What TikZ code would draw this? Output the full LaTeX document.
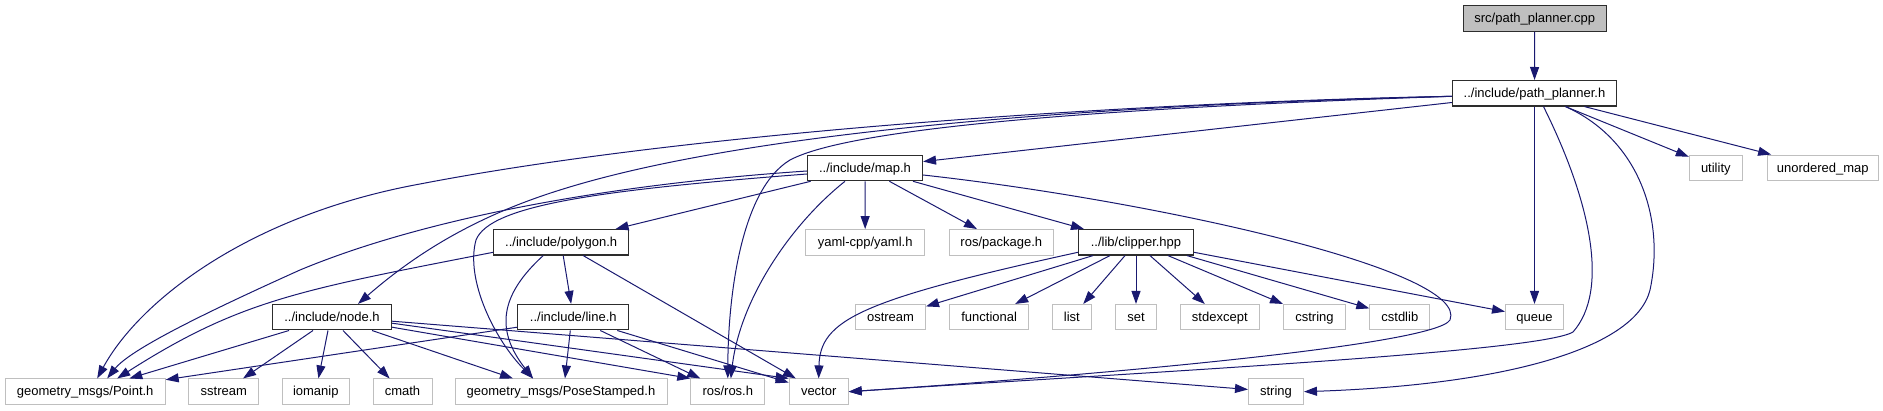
\documentclass[tikz,border=0pt]{standalone}
\usepackage{fontspec}
\setmainfont{Liberation Sans}
\usepackage{tikz}
\usetikzlibrary{arrows.meta}
\definecolor{depblue}{RGB}{25,25,112}
\definecolor{sysgray}{RGB}{191,191,191}
\definecolor{hdrgray}{RGB}{45,45,45}

\begin{document}
\begin{tikzpicture}[x=1pt, y=-1pt,
  box/.style={draw=hdrgray, line width=1.1pt, fill=white, inner sep=0pt, minimum height=25.5pt, text height=11pt, text depth=2.5pt, font=\fontsize{13}{15}\selectfont},
  sysbox/.style={box, draw=sysgray, line width=1pt},
  srcbox/.style={box, fill=sysgray},
  dep/.style={depblue, line width=1pt, -{Triangle[length=13pt,width=9pt]}}]
\useasboundingbox (0,0) rectangle (1883,411);
\node[srcbox, minimum width=143pt] (src) at (1534.7,18.5) {src/path\_planner.cpp};
\node[box, minimum width=164pt] (planner) at (1534.5,93.3) {../include/path\_planner.h};
\node[sysbox, minimum width=53pt] (utility) at (1715.8,167.8) {utility};
\node[sysbox, minimum width=111pt] (umap) at (1822.7,167.8) {unordered\_map};
\node[box, minimum width=115pt] (maph) at (865,168) {../include/map.h};
\node[sysbox, minimum width=119pt] (yaml) at (865.2,242.3) {yaml-cpp/yaml.h};
\node[sysbox, minimum width=104pt] (rospkg) at (1001.3,242.3) {ros/package.h};
\node[box, minimum width=115pt] (clipper) at (1136,242.3) {../lib/clipper.hpp};
\node[box, minimum width=135pt] (polygonh) at (561.2,242.3) {../include/polygon.h};
\node[box, minimum width=119pt] (nodeh) at (332,317.2) {../include/node.h};
\node[box, minimum width=111pt] (lineh) at (573.3,317.2) {../include/line.h};
\node[sysbox, minimum width=70pt] (ostream) at (890.5,317.2) {ostream};
\node[sysbox, minimum width=79pt] (functional) at (989.2,317.2) {functional};
\node[sysbox, minimum width=39pt] (list) at (1071.8,317.2) {list};
\node[sysbox, minimum width=41pt] (set) at (1136,317.2) {set};
\node[sysbox, minimum width=79pt] (stdexcept) at (1219.8,317.2) {stdexcept};
\node[sysbox, minimum width=62pt] (cstring) at (1314.5,317.2) {cstring};
\node[sysbox, minimum width=60pt] (cstdlib) at (1399.8,317.2) {cstdlib};
\node[sysbox, minimum width=58pt] (queue) at (1534.5,317.2) {queue};
\node[sysbox, minimum width=160pt] (point) at (85.2,391.7) {geometry\_msgs/Point.h};
\node[sysbox, minimum width=70pt] (sstream) at (223.8,391.7) {sstream};
\node[sysbox, minimum width=67pt] (iomanip) at (315.8,391.7) {iomanip};
\node[sysbox, minimum width=59pt] (cmath) at (402.5,391.7) {cmath};
\node[sysbox, minimum width=212pt] (pose) at (561,391.7) {geometry\_msgs/PoseStamped.h};
\node[sysbox, minimum width=74pt] (rosh) at (727.8,391.7) {ros/ros.h};
\node[sysbox, minimum width=59pt] (vector) at (818.7,391.7) {vector};
\node[sysbox, minimum width=55pt] (string) at (1276,391.7) {string};

\draw[dep] (src) -- (planner);
\draw[dep] (planner) -- (maph);
\draw[dep] (planner) -- (queue);
\draw[dep] ([xshift=31pt]planner.south) -- (utility);
\draw[dep] ([xshift=50pt]planner.south) -- (umap);
\draw[dep] ([yshift=-3pt]planner.west) .. controls (1150,102) and (700,130) .. (420,184) .. controls (250,215) and (140,300) .. ([xshift=12pt]point.north);
\draw[dep] ([yshift=-3pt]planner.west) .. controls (1100,105) and (750,130) .. (560,190) .. controls (480,215) and (420,250) .. ([xshift=26pt]nodeh.north);
\draw[dep] ([yshift=-3pt]planner.west) .. controls (1100,108) and (850,128) .. (790,160) .. controls (740,190) and (728,300) .. (rosh.north);
\draw[dep] ([xshift=9pt]planner.south) .. controls (1590,200) and (1610,290) .. (1573,332) .. controls (1540,352) and (1150,372) .. (vector.east);
\draw[dep] ([xshift=31pt]planner.south) .. controls (1640,140) and (1665,220) .. (1650,290) .. controls (1635,350) and (1500,385) .. (string.east);

\draw[dep] (maph) -- (yaml);
\draw[dep] (maph) -- (rospkg);
\draw[dep] (maph) -- (polygonh);
\draw[dep] ([xshift=48pt]maph.south) -- ([xshift=6pt]clipper.north west);
\draw[dep] ([yshift=-3pt]maph.west) .. controls (600,185) and (420,220) .. (300,270) .. controls (200,315) and (130,350) .. ([xshift=22pt]point.north);
\draw[dep] ([yshift=-6pt]maph.west) .. controls (600,190) and (490,205) .. (476,240) .. controls (465,280) and (495,340) .. ([xshift=-28pt]pose.north);
\draw[dep] ([xshift=-20pt]maph.south) .. controls (790,225) and (740,300) .. ([xshift=3pt]rosh.north);
\draw[dep] ([yshift=-7pt]maph.east) .. controls (1150,200) and (1470,270) .. (1450,320) .. controls (1435,345) and (1100,375) .. (vector.east);

\draw[dep] ([yshift=-10pt]polygonh.west) .. controls (300,290) and (240,300) .. ([xshift=32pt]point.north);
\draw[dep] ([xshift=-18pt]polygonh.south) .. controls (500,295) and (495,330) .. ([xshift=-28pt]pose.north);
\draw[dep] ([xshift=2pt]polygonh.south) -- (lineh);
\draw[dep] ([xshift=22pt]polygonh.south) -- (vector);

\draw[dep] ([yshift=-10pt]lineh.west) -- (point);
\draw[dep] ([xshift=-3pt]lineh.south) -- ([xshift=4pt]pose.north);
\draw[dep] ([xshift=27pt]lineh.south) -- (rosh);
\draw[dep] ([xshift=44pt]lineh.south) -- (vector);

\draw[dep] ([xshift=-43pt]nodeh.south) -- (point);
\draw[dep] ([xshift=-19pt]nodeh.south) -- (sstream);
\draw[dep] ([xshift=-4pt]nodeh.south) -- (iomanip);
\draw[dep] ([xshift=11pt]nodeh.south) -- (cmath);
\draw[dep] ([xshift=40pt]nodeh.south) -- ([xshift=-48pt]pose.north);
\draw[dep] ([yshift=-10pt]nodeh.east) -- (rosh.north west);
\draw[dep] ([yshift=-6pt]nodeh.east) -- (vector.north west);
\draw[dep] ([yshift=-4pt]nodeh.east) -- (string);

\draw[dep] ([yshift=-10pt]clipper.west) .. controls (860,300) and (820,320) .. (vector.north);
\draw[dep] ([xshift=-43pt]clipper.south) -- (ostream);
\draw[dep] ([xshift=-26pt]clipper.south) -- (functional);
\draw[dep] ([xshift=-11pt]clipper.south) -- (list);
\draw[dep] (clipper) -- (set);
\draw[dep] ([xshift=14pt]clipper.south) -- (stdexcept);
\draw[dep] ([xshift=32pt]clipper.south) -- (cstring);
\draw[dep] ([xshift=51pt]clipper.south) -- (cstdlib);
\draw[dep] ([yshift=-10pt]clipper.east) -- (queue);
\end{tikzpicture}
\end{document}
